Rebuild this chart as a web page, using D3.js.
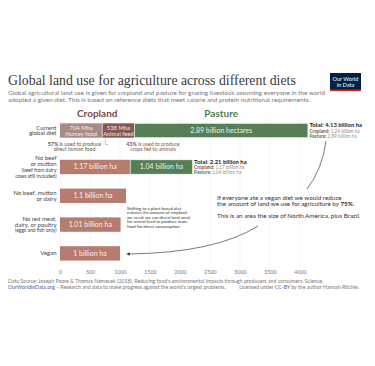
<!DOCTYPE html>
<html><head><meta charset="utf-8">
<script src="https://cdn.jsdelivr.net/npm/d3@7"></script>
<style>
html,body{margin:0;padding:0;background:#fff;}
svg{display:block;font-family:Lato,"Noto Sans",sans-serif;}
</style></head>
<body>
<svg id="chart" width="375" height="366"></svg>
<script>
// ---- data ----
const categories = ["Current global diet", "No beef or mutton", "No beef, mutton or dairy", "No red meat, dairy, or poultry", "Vegan"];
const categoryLines = [
  ["Current", "global diet"],
  ["No beef", "or mutton", "(beef from dairy", "cows still included)"],
  ["No beef, mutton", "or dairy"],
  ["No red meat,", "dairy, or poultry", "(eggs and fish only)"],
  ["Vegan"]
];
const cropland = [1242, 1170, 1100, 1010, 1000];
const pasture = [2890, 1040, 0, 0, 0];
const currentSplit = [704, 538];           // human food, animal feed (Mha)
const currentSplitLabels = [["704 Mha", "Human food"], ["538 Mha", "Animal feed"]];
const croplandLabels = ["", "1.17 billion ha", "1.1 billion ha", "1.01 billion ha", "1 billion ha"];
const pastureLabels = ["2.89 billion hectares", "1.04 billion ha", "", "", ""];
const totals = ["4.13 billion ha", "2.21 billion ha", "", "", ""];
const totalCropland = ["1.24 billion ha", "1.17 billion ha", "", "", ""];
const totalPasture = ["2.89 billion ha", "1.04 billion ha", "", "", ""];
const ticks = [0, 500, 1000, 1500, 2000, 2500, 3000, 3500, 4000];

// ---- colours ----
const cHuman = "#a98b86", cFeed = "#8a5651", cPasture = "#567f57", cCrop = "#b67c70";
const cCropText = "#8a504b", cPastureText = "#4f7b50";

const svg = d3.select("#chart");

function fit(sel, w, size) {
  sel.style("font-size", size + "px");
  const l = sel.node().getComputedTextLength();
  const s = size * w / l;
  sel.style("font-size", s + "px");
  return s;
}

// ---- header ----
const title = svg.append("text").attr("x", 8).attr("y", 84.5)
  .attr("fill", "#3a3a3a")
  .style("font-family", "'Liberation Serif','DejaVu Serif',serif")
  .text("Global land use for agriculture across different diets");
fit(title, 288, 17);

const sub1 = svg.append("text").attr("x", 8).attr("y", 95).attr("fill", "#777")
  .text("Global agricultural land use is given for cropland and pasture for grazing livestock assuming everyone in the world");
const subSize = fit(sub1, 318, 6.5);
svg.append("text").attr("x", 8).attr("y", 102).attr("fill", "#777").style("font-size", subSize + "px")
  .text("adopted a given diet. This is based on reference diets that meet calorie and protein nutritional requirements.");

// logo
const logo = svg.append("g");
logo.append("rect").attr("x", 330).attr("y", 73).attr("width", 31).attr("height", 18).attr("fill", "#002147");
logo.append("rect").attr("x", 330).attr("y", 89.5).attr("width", 31).attr("height", 1.6).attr("fill", "#ce261e");
logo.append("text").attr("x", 345.5).attr("y", 80.5).attr("text-anchor", "middle").attr("fill", "#fff").style("font-size", "5.6px").text("Our World");
logo.append("text").attr("x", 345.5).attr("y", 86.5).attr("text-anchor", "middle").attr("fill", "#fff").style("font-size", "5.6px").text("in Data");

// ---- scales ----
const x = d3.scaleLinear().domain([0, 4000]).range([60, 300]);
const y = d3.scaleBand().domain(categories).range([108.9, 267.3]).paddingInner(0.5).paddingOuter(0.5);
const noteGap = 7.7; // extra room under the first row for its notes
const yTop = (c, i) => y(c) + (i > 0 ? noteGap : 0);
const bh = y.bandwidth();
const yMid = (c, i) => yTop(c, i) + bh / 2;

// gridlines
svg.append("g").selectAll("line").data(ticks).join("line")
  .attr("x1", d => x(d)).attr("x2", d => x(d))
  .attr("y1", 119).attr("y2", 266)
  .attr("stroke", "#ececec").attr("stroke-width", 0.6);

// axis
const axis = svg.append("g").attr("transform", "translate(0,266)")
  .call(d3.axisBottom(x).tickValues(ticks).tickFormat(d3.format("d")).tickSize(0).tickPadding(4));
axis.select(".domain").remove();
axis.selectAll("text").attr("fill", "#777").style("font-size", "5.3px").style("font-family", "Lato,sans-serif");

// headers
svg.append("text").attr("x", (x(0) + x(cropland[0])) / 2).attr("y", 116.5).attr("text-anchor", "middle")
  .attr("fill", "#7d4a45").style("font-size", "10px").style("font-weight", 700).text("Cropland");
svg.append("text").attr("x", (x(cropland[0]) + x(cropland[0] + pasture[0])) / 2).attr("y", 116.5).attr("text-anchor", "middle")
  .attr("fill", "#4f7b50").style("font-size", "10px").style("font-weight", 700).text("Pasture");

// ---- bars ----
const bars = svg.append("g");
const splitStarts = [0, currentSplit[0]];
bars.selectAll("rect.split").data(currentSplit).join("rect").attr("class", "split")
  .attr("x", (d, i) => x(splitStarts[i])).attr("y", yTop(categories[0], 0))
  .attr("width", d => x(d) - x(0)).attr("height", bh)
  .attr("fill", (d, i) => i === 0 ? cHuman : cFeed);
bars.append("line").attr("x1", x(currentSplit[0])).attr("x2", x(currentSplit[0]))
  .attr("y1", yTop(categories[0], 0)).attr("y2", yTop(categories[0], 0) + bh).attr("stroke", "#fff").attr("stroke-width", 0.6);

bars.selectAll("rect.crop").data(categories.slice(1)).join("rect").attr("class", "crop")
  .attr("x", x(0)).attr("y", (c, i) => yTop(c, i + 1))
  .attr("width", (c, i) => x(cropland[i + 1]) - x(0)).attr("height", bh).attr("fill", cCrop);

const pastData = categories.map((c, i) => ({ c, i })).filter(d => pasture[d.i] > 0);
bars.selectAll("rect.past").data(pastData).join("rect").attr("class", "past")
  .attr("x", d => x(cropland[d.i])).attr("y", d => yTop(d.c, d.i))
  .attr("width", d => x(pasture[d.i]) - x(0)).attr("height", bh).attr("fill", cPasture)
  .attr("stroke", "#fff").attr("stroke-width", 0.6);

currentSplit.forEach((v, i) => {
  const cx = x(splitStarts[i] + v / 2);
  const t = svg.append("text").attr("text-anchor", "middle").attr("fill", "#fff").attr("fill-opacity", 0.9).style("font-size", "5.8px");
  t.append("tspan").attr("x", cx).attr("y", yMid(categories[0], 0) - 0.6).text(currentSplitLabels[i][0]);
  t.append("tspan").attr("x", cx).attr("y", yMid(categories[0], 0) + 5).text(currentSplitLabels[i][1]);
});
categories.forEach((c, i) => {
  if (croplandLabels[i]) svg.append("text").attr("x", x(cropland[i] / 2)).attr("y", yMid(c, i) + 2.4)
    .attr("text-anchor", "middle").attr("fill", "#fff").attr("fill-opacity", 0.92).style("font-size", "7px").text(croplandLabels[i]);
  if (pastureLabels[i]) svg.append("text").attr("x", x(cropland[i] + pasture[i] / 2)).attr("y", yMid(c, i) + 2.4)
    .attr("text-anchor", "middle").attr("fill", "#fff").attr("fill-opacity", 0.92).style("font-size", "7px").text(pastureLabels[i]);
});

// totals
categories.forEach((c, i) => {
  if (!totals[i]) return;
  const tx = x(cropland[i] + pasture[i]) + 1.5;
  const ty = yTop(c, i) + 4;
  svg.append("text").attr("x", tx).attr("y", ty).attr("fill", "#222").style("font-size", "5.9px").style("font-weight", 700)
    .text("Total: " + totals[i]);
  const t2 = svg.append("text").attr("x", tx).attr("y", ty + 5.4).style("font-size", "4.7px").attr("fill", cCropText);
  t2.append("tspan").style("font-weight", 700).text("Cropland: ");
  t2.append("tspan").attr("fill-opacity", 0.8).text(totalCropland[i]);
  const t3 = svg.append("text").attr("x", tx).attr("y", ty + 10.4).style("font-size", "4.7px").attr("fill", cPastureText);
  t3.append("tspan").style("font-weight", 700).text("Pasture: ");
  t3.append("tspan").attr("fill-opacity", 0.8).text(totalPasture[i]);
});

// category labels
categories.forEach((c, i) => {
  const lines = categoryLines[i];
  const mid = yMid(c, i);
  const sizes = lines.map((l, k) => (i === 1 && k >= 2) || (i === 3 && k === 2) ? 5 : 6);
  const step = 5.8;
  const start = mid - (lines.length - 1) * step / 2 + 2;
  lines.forEach((l, k) => {
    svg.append("text").attr("x", 56.5).attr("y", start + k * step).attr("text-anchor", "end")
      .attr("fill", "#444").style("font-size", sizes[k] + "px").text(l);
  });
});

// notes under current bar
const nb = yTop(categories[0], 0) + bh;
const n1 = svg.append("text").attr("text-anchor", "middle").attr("fill", "#555").style("font-size", "5.2px");
const n1a = n1.append("tspan").attr("x", 74.5).attr("y", nb + 8.3);
n1a.append("tspan").style("font-weight", 700).text("57%");
n1a.append("tspan").text(" is used to produce");
n1.append("tspan").attr("x", 74.5).attr("y", nb + 13.6).text("direct human food");
const fx = x(currentSplit[0] + currentSplit[1] / 2);
svg.append("path").attr("d", `M${fx - 13},${nb + 1} V${nb + 6.8} H${fx - 10}`)
  .attr("fill", "none").attr("stroke", "#888").attr("stroke-width", 0.5);
const n2 = svg.append("text").attr("text-anchor", "middle").attr("fill", cCropText).style("font-size", "5.2px");
const n2a = n2.append("tspan").attr("x", 153).attr("y", nb + 8.3);
n2a.append("tspan").style("font-weight", 700).text("43%");
n2a.append("tspan").text(" is used to produce");
n2.append("tspan").attr("x", 153).attr("y", nb + 13.6).text("crops fed to animals");

// middle annotation
const midNote = ["Shifting to a plant-based diet", "reduces the amount of cropland", "we need: we can divert land used", "for animal feed to produce more", "food for direct consumption"];
midNote.forEach((l, k) => svg.append("text").attr("x", 127).attr("y", 209.5 + k * 4.5)
  .attr("fill", "#333").style("font-size", "4.3px").text(l));

// right annotation
const r1 = svg.append("text").attr("x", 217).attr("y", 199.5).attr("fill", "#333").text("If everyone ate a vegan diet we would reduce");
const rs = fit(r1, 125, 6);
const r2 = svg.append("text").attr("x", 217).attr("y", 206.2).attr("fill", "#333").style("font-size", rs + "px");
r2.append("tspan").text("the amount of land we use for agriculture by ");
r2.append("tspan").style("font-weight", 700).text("75%");
r2.append("tspan").text(".");
svg.append("text").attr("x", 217).attr("y", 218).attr("fill", "#333").style("font-size", rs + "px")
  .text("This is an area the size of North America, plus Brazil.");

// connector lines
svg.append("defs").append("marker").attr("id", "arr").attr("viewBox", "0 0 10 10").attr("refX", 5).attr("refY", 5)
  .attr("markerWidth", 5).attr("markerHeight", 5).attr("orient", "auto-start-reverse")
  .append("path").attr("d", "M0,0 L10,5 L0,10 z").attr("fill", "#333");
svg.append("path").attr("d", "M326,141 Q322,170 307,189").attr("fill", "none").attr("stroke", "#444").attr("stroke-width", 0.7);
svg.append("path").attr("d", "M258,226 Q215,253 128,254").attr("fill", "none").attr("stroke", "#444").attr("stroke-width", 0.7)
  .attr("marker-end", "url(#arr)");

// footer
svg.append("text").attr("x", 8).attr("y", 283).attr("fill", "#777").style("font-size", "5.2px")
  .text("Data Source: Joseph Poore & Thomas Nemecek (2018). Reducing food's environmental impacts through producers and consumers. Science.");
const f2 = svg.append("text").attr("x", 8).attr("y", 288.6).attr("fill", "#777").style("font-size", "5.2px");
f2.append("tspan").attr("fill", "#3b5cb8").text("OurWorldInData.org");
f2.append("tspan").text(" – Research and data to make progress against the world's largest problems.");
const f3 = svg.append("text").attr("x", 359).attr("y", 288.6).attr("text-anchor", "end").attr("fill", "#777").style("font-size", "5.2px");
f3.append("tspan").text("Licensed under ");
f3.append("tspan").attr("fill", "#3b5cb8").text("CC-BY");
f3.append("tspan").text(" by the author Hannah Ritchie.");
</script>
</body></html>
